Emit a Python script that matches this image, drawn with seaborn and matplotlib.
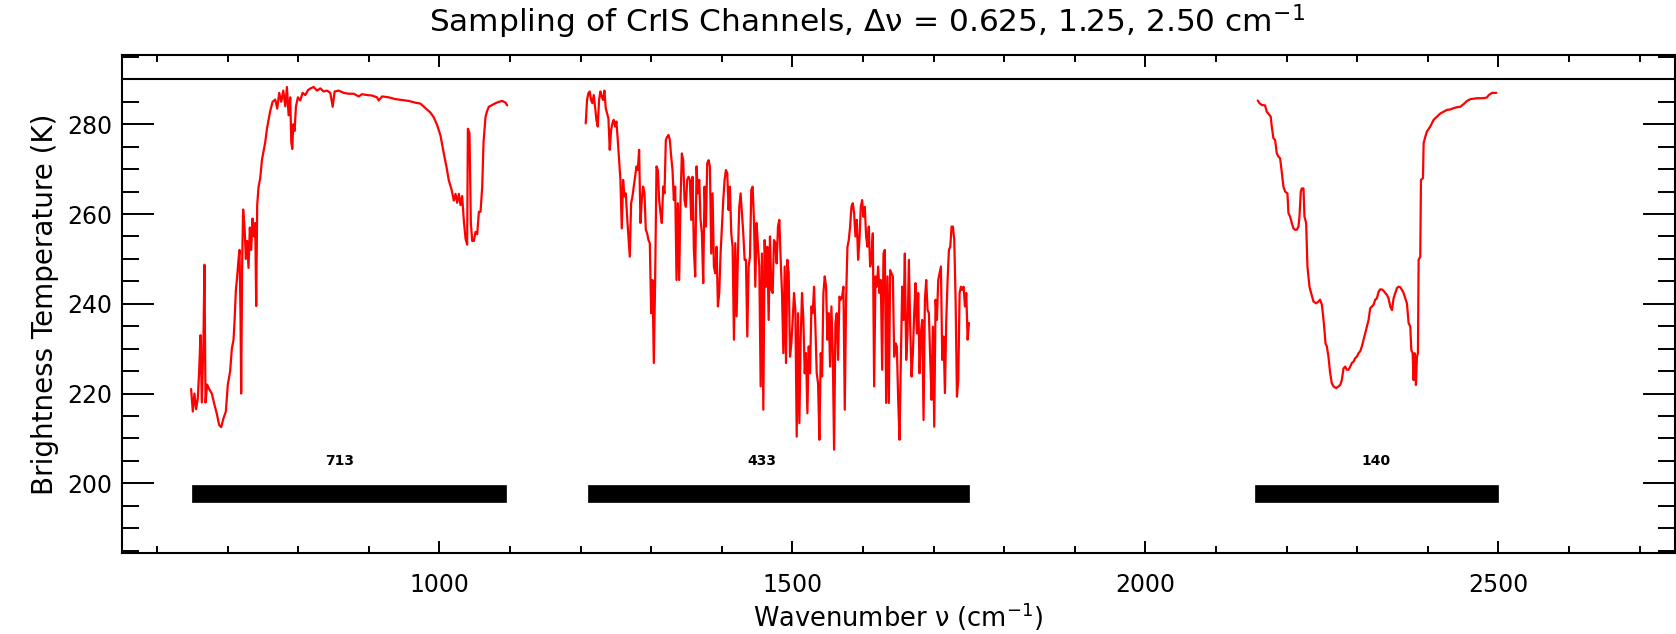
import numpy as np
import pandas as pd
import matplotlib
matplotlib.use("Agg")
import matplotlib.pyplot as plt
import seaborn as sns
from matplotlib.ticker import MultipleLocator

# ---------------- data ----------------
# Longwave band (0.625 cm-1 sampling)
lw_wn = [648.3, 650.7, 653.0, 655.4, 657.8, 659.7, 661.6, 663.5, 665.8, 667.2,
         668.7, 671.0, 673.9, 677.6, 681.4, 684.7, 688.0, 690.9, 694.2, 697.5,
         700.3, 703.6, 706.0, 708.4, 709.8, 711.7, 713.5, 715.5, 716.9, 718.3,
         719.2, 720.7, 722.0, 724.0, 725.9, 727.7, 729.6, 731.5, 733.4, 735.3,
         737.2, 739.1, 740.5, 741.9, 743.8, 746.2, 748.6, 750.9, 753.3, 755.7,
         758.0, 760.4, 763.7, 767.5, 770.3, 773.1, 776.0, 778.8, 781.7, 784.0,
         786.4, 788.7, 790.2, 791.6, 793.0, 794.9, 796.8, 799.6, 802.9, 806.2,
         810.0, 813.8, 817.6, 821.8, 826.6, 831.3, 836.0, 840.8, 845.5, 848.8,
         851.6, 857.3, 864.4, 871.5, 878.6, 885.7, 890.4, 897.5, 904.6, 911.7,
         914.0, 918.8, 928.2, 937.7, 947.1, 956.6, 966.0, 973.1, 980.2, 987.3,
         992.1, 996.8, 1001.5, 1006.2, 1010.0, 1013.3, 1017.1, 1020.4, 1022.8, 1025.1,
         1027.5, 1029.9, 1032.2, 1034.6, 1037.0, 1039.3, 1040.3, 1042.6, 1044.5, 1046.4,
         1048.8, 1051.1, 1053.5, 1055.9, 1058.2, 1060.6, 1062.5, 1065.3, 1067.7, 1070.0,
         1074.8, 1079.5, 1084.2, 1089.0, 1093.7, 1096.0]
lw_bt = [221, 216, 220, 216.5, 219, 225, 233, 218, 232, 248.7,
         218, 222, 221, 220, 217.5, 215.5, 213, 212.5, 214.5, 216,
         222, 225, 230, 232, 236, 243, 246, 250, 252, 237,
         220, 250, 261, 257, 250, 254, 248, 257, 252, 259,
         255, 258, 239.5, 262, 266, 268, 272, 274, 276, 279,
         281, 283, 285, 285.5, 283.5, 287, 285, 287.5, 284, 288.3,
         282, 286, 276, 274.5, 280, 278.5, 284, 286, 285.3, 287,
         286.5, 287.6, 288, 288.3, 287.5, 288, 287.3, 287.5, 287, 283.9,
         287.3, 287.5, 287, 286.8, 286.8, 286.2, 286.7, 286.5, 286.4, 286,
         285.3, 286.2, 286, 285.6, 285.4, 285.2, 284.8, 284.6, 283.6, 282.6,
         281.5, 279.8, 277.5, 273.5, 270.5, 267.5, 265.5, 263, 264.5, 262.5,
         264.5, 262, 264, 258.5, 254.5, 253.2, 279, 278, 258, 254,
         254, 256, 255.5, 260.5, 260.5, 266, 276, 281.7, 283, 283.9,
         284.3, 284.7, 285, 285.2, 284.8, 284.2]

# Midwave band (read on a regular wavenumber grid from 1207.2 to 1750 cm-1)
mw_first, mw_last = 1207.2, 1750.0
mw_bt = [280.2, 285.4, 286.9, 287.3, 285.4, 284.7, 286.5, 283.9, 281.0, 279.5,
         285.4, 287.3, 286.2, 285.4, 287.5, 283.6, 282.4, 281.3, 274.3, 278.7,
         280.2, 281.0, 279.5, 280.6, 276.5, 272.0, 267.6, 256.8, 267.6, 263.9,
         264.6, 259.4, 255.0, 250.5, 262.4, 263.9, 266.1, 268.3, 270.6, 269.8,
         274.3, 258.0, 263.1, 266.1, 264.6, 256.5, 255.7, 254.2, 253.5, 237.9,
         245.3, 226.8, 245.3, 270.6, 269.8, 263.1, 260.2, 258.0, 266.1, 264.6,
         276.5, 277.2, 277.6, 276.5, 272.8, 269.8, 263.1, 266.1, 245.3, 262.4,
         245.3, 263.1, 273.5, 272.0, 263.1, 261.6, 267.6, 268.3, 267.6, 258.7,
         268.3, 252.0, 246.1, 270.6, 264.6, 267.6, 258.7, 255.7, 244.6, 266.1,
         257.2, 271.3, 272.0, 270.6, 251.2, 264.6, 248.3, 246.8, 252.7, 239.4,
         242.4, 251.2, 257.2, 263.1, 267.6, 269.8, 269.1, 260.9, 266.1, 255.7,
         252.7, 232.0, 253.5, 237.2, 251.2, 261.6, 264.6, 260.2, 255.7, 249.8,
         249.8, 232.7, 248.3, 250.5, 265.4, 266.1, 258.7, 243.8, 258.0, 252.7,
         248.3, 221.6, 251.2, 216.4, 254.2, 243.8, 252.7, 236.4, 255.0, 243.1,
         242.4, 254.2, 253.5, 249.0, 257.2, 258.7, 249.8, 242.4, 229.0, 248.3,
         226.8, 249.8, 246.8, 228.2, 231.2, 236.4, 242.4, 238.6, 210.4, 237.9,
         213.4, 232.7, 242.4, 236.4, 224.5, 229.0, 215.6, 230.5, 224.5, 239.4,
         237.9, 243.8, 234.9, 224.5, 222.3, 209.7, 229.0, 223.8, 242.4, 246.1,
         243.8, 232.0, 237.9, 226.0, 239.4, 229.0, 207.5, 235.7, 237.9, 227.5,
         241.6, 240.9, 241.6, 243.8, 216.4, 240.9, 252.7, 254.2, 257.2, 261.6,
         262.4, 260.2, 255.0, 258.7, 249.8, 254.2, 261.6, 263.1, 259.4, 261.6,
         255.0, 252.7, 257.2, 248.3, 249.8, 255.7, 221.6, 246.1, 243.8, 248.3,
         242.4, 245.3, 225.3, 251.2, 252.0, 217.9, 246.1, 217.9, 247.5, 246.8,
         246.1, 228.2, 231.2, 230.5, 218.6, 209.7, 227.5, 243.8, 236.4, 251.2,
         227.5, 233.4, 249.8, 234.9, 223.8, 229.0, 237.9, 244.6, 233.4, 242.4,
         224.5, 233.4, 236.4, 214.1, 240.9, 245.3, 238.6, 237.9, 227.5, 218.6,
         234.9, 212.6, 240.9, 236.4, 245.3, 246.8, 248.3, 227.5, 232.7, 220.1,
         236.4, 245.3, 252.0, 252.7, 257.2, 257.2, 254.2, 240.9, 219.3, 223.0,
         242.4, 243.8, 243.1, 243.8, 239.4, 242.4, 232.0, 235.7]

# Shortwave band (2.50 cm-1 sampling)
sw_wn = [2159.0, 2161.4, 2164.7, 2169.4, 2171.8, 2175.5, 2177.4, 2178.9, 2181.2, 2183.6,
         2186.0, 2188.3, 2190.7, 2193.0, 2195.4, 2197.8, 2201.1, 2202.5, 2204.9, 2207.2,
         2209.6, 2211.9, 2214.3, 2216.7, 2218.1, 2220.0, 2221.4, 2223.8, 2225.2, 2227.6,
         2229.4, 2232.3, 2234.6, 2238.0, 2241.7, 2245.0, 2247.4, 2249.8, 2251.2, 2253.1,
         2255.0, 2256.9, 2259.2, 2261.6, 2263.9, 2266.3, 2270.1, 2273.4, 2275.8, 2278.1,
         2280.5, 2282.9, 2285.2, 2287.6, 2290.0, 2292.3, 2294.7, 2297.1, 2299.4, 2301.8,
         2304.1, 2306.5, 2308.9, 2311.2, 2313.6, 2316.0, 2318.3, 2320.7, 2323.1, 2325.4,
         2327.8, 2330.2, 2332.5, 2334.9, 2337.2, 2339.6, 2342.0, 2344.3, 2346.7, 2349.1,
         2351.4, 2353.8, 2356.2, 2358.5, 2360.9, 2363.2, 2365.6, 2368.0, 2370.3, 2372.7,
         2375.1, 2376.5, 2378.4, 2379.8, 2381.2, 2383.1, 2384.5, 2385.9, 2386.9, 2389.2,
         2390.2, 2393.0, 2394.0, 2396.3, 2398.7, 2403.4, 2408.2, 2412.9, 2417.6, 2422.3,
         2427.1, 2431.8, 2436.5, 2441.3, 2446.0, 2450.7, 2455.4, 2460.2, 2469.6, 2479.1,
         2483.8, 2486.2, 2490.9, 2497.0]
sw_bt = [285.3, 284.7, 284.3, 284.2, 282.8, 282.1, 281.7, 279.5, 276.9, 276.5,
         273.5, 272.8, 272.4, 269.4, 266.1, 265.0, 264.6, 260.2, 259.4, 258.0,
         256.8, 256.5, 256.5, 257.2, 259.4, 265.0, 265.7, 265.7, 259.4, 258.0,
         248.3, 243.8, 242.4, 240.5, 240.1, 240.5, 240.9, 239.8, 237.9, 234.9,
         231.2, 230.5, 228.2, 224.5, 222.3, 221.6, 221.2, 221.6, 221.9, 223.0,
         225.6, 226.0, 225.3, 225.3, 226.0, 226.8, 227.1, 227.9, 228.2, 229.0,
         229.4, 230.5, 232.0, 233.4, 234.9, 236.4, 239.0, 239.4, 239.8, 240.9,
         241.2, 242.7, 243.2, 243.2, 242.9, 242.4, 242.0, 241.2, 239.4, 238.6,
         241.2, 242.4, 243.5, 243.8, 243.7, 243.1, 242.4, 241.2, 240.1, 235.7,
         234.9, 229.7, 229.0, 223.0, 229.0, 221.9, 228.2, 229.0, 249.8, 250.5,
         267.6, 268.0, 275.8, 277.2, 278.4, 279.5, 281.0, 281.7, 282.4, 282.8,
         283.2, 283.3, 283.6, 283.8, 283.9, 284.5, 285.2, 285.6, 285.8, 285.8,
         286.0, 286.5, 287.0, 287.0]

# Spectral bands and number of channels
band_start = [650, 1210, 2155]
band_end = [1095, 1750, 2500]
band_channels = [713, 433, 140]
band_label_x = [858, 1456, 2327]
band_bar_level = 197.7
band_label_level = 205.0

x_ticks = [1000, 1500, 2000, 2500]
y_ticks = [200, 220, 240, 260, 280]
ref_line = 290

# ---------------- figure ----------------
sns.set_style("white")
plt.rcParams['font.family'] = ['DejaVu Sans']
plt.rcParams['text.color'] = 'black'
plt.rcParams['axes.labelcolor'] = 'black'
plt.rcParams['xtick.color'] = 'black'
plt.rcParams['ytick.color'] = 'black'

W, H = 1676, 634
fig = plt.figure(figsize=(W / 100, H / 100), dpi=100)
L, R, T, B = 121.7, 1675.0, 54.7, 553.3
ax = fig.add_axes([L / W, 1 - B / H, (R - L) / W, (B - T) / H])

mw_wn = np.linspace(mw_first, mw_last, len(mw_bt))
spectrum = pd.concat([
    pd.DataFrame({"wn": lw_wn, "bt": lw_bt, "band": "LW"}),
    pd.DataFrame({"wn": mw_wn, "bt": mw_bt, "band": "MW"}),
    pd.DataFrame({"wn": sw_wn, "bt": sw_bt, "band": "SW"}),
], ignore_index=True)

for band, sub in spectrum.groupby("band"):
    sns.lineplot(data=sub, x="wn", y="bt", ax=ax, color="#ff0000",
                 linewidth=1.6, estimator=None, sort=False, legend=False)

# channel bars
for s, e, n, lx in zip(band_start, band_end, band_channels, band_label_x):
    ax.barh(band_bar_level, e - s, left=s, height=3.9, color="black",
            edgecolor="black", linewidth=0.5)
    ax.text(lx, band_label_level, str(n), ha="center", va="center",
            fontsize=10, fontweight="bold", color="black")

ax.axhline(ref_line, color="black", linewidth=1.5)

ax.set_xlim(550, 2750)
ax.set_ylim(184.4, 295.5)
ax.set_xticks(x_ticks)
ax.set_yticks(y_ticks)
ax.xaxis.set_minor_locator(MultipleLocator(100))
ax.yaxis.set_minor_locator(MultipleLocator(5))

ax.tick_params(axis="x", which="major", direction="in", length=8.6, width=1.4,
               top=True, bottom=True, labelsize=17, pad=14)
ax.tick_params(axis="x", which="minor", direction="in", length=5, width=1.4,
               top=True, bottom=True)
ax.tick_params(axis="y", which="major", direction="in", length=23, width=1.4,
               left=True, right=True, labelsize=17, pad=7)
ax.tick_params(axis="y", which="minor", direction="in", length=12, width=1.4,
               left=True, right=True)

for sp in ax.spines.values():
    sp.set_visible(True)
    sp.set_linewidth(1.5)
    sp.set_color("black")

ax.set_xlabel("Wavenumber ν (cm$^{-1}$)", fontsize=18.5, labelpad=3)
ax.set_ylabel("Brightness Temperature (K)", fontsize=20, labelpad=6)
fig.text(867 / W, 1 - 22 / H,
         "Sampling of CrIS Channels, Δν = 0.625, 1.25, 2.50 cm$^{-1}$",
         ha="center", va="center", fontsize=22.5)

fig.savefig("out.png", dpi=100, facecolor="white")
